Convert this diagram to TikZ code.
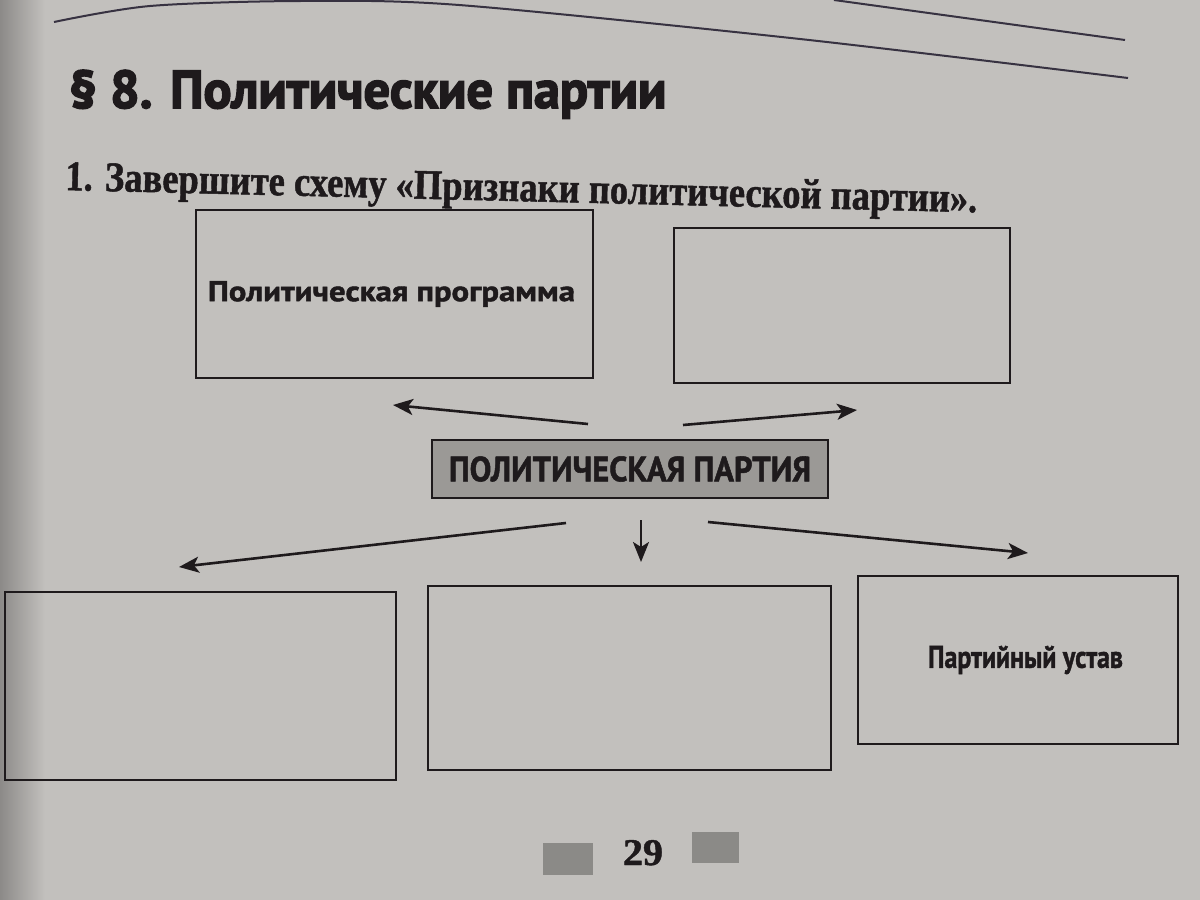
\documentclass[tikz,border=0pt]{standalone}
\usepackage{graphicx}
\usepackage{fontspec}
\setmainfont{Liberation Serif}[BoldFeatures={FakeBold=1.2}]
\newfontfamily\labelfont{PT Sans}[BoldFeatures={FakeBold=1.5}]
\newfontfamily\titlefont{PT Sans}[BoldFeatures={FakeBold=3}]
\usetikzlibrary{arrows.meta}
\definecolor{paper}{RGB}{194,192,189}
\definecolor{paperdark}{RGB}{140,138,136}
\definecolor{ink}{RGB}{30,26,28}
\definecolor{halftone}{RGB}{155,153,150}
\definecolor{ruleink}{RGB}{55,50,65}
\begin{document}
\begin{tikzpicture}[x=1pt,y=-1pt,
  frame/.style={draw=ink, line width=2pt, rectangle, inner sep=0pt, text=ink},
  partybox/.style={frame, fill=halftone},
  conn/.style={draw=ink, line width=2.6pt, -{Stealth[length=20pt,width=16pt,inset=5pt]}},
  plate/.style={fill=halftone!90!black, draw=none}]
% page
\useasboundingbox (0,0) rectangle (1200,900);
\fill[paper] (0,0) rectangle (1200,900);
\shade[left color=paperdark, right color=paper] (0,0) rectangle (45,900);
% top rules
\draw[ruleink, line width=2pt] plot[smooth] coordinates {(54,22) (150,6) (300,1) (459,5) (800,39) (1128,78)};
\draw[ruleink, line width=2pt] (834,0) -- (1125,40);
% headings
\node[anchor=base west, inner sep=0pt, text=ink] (title) at (69,108)
  {\resizebox{597pt}{38pt}{\titlefont\bfseries § 8. Политические партии}};
\node[anchor=base west, inner sep=0pt, text=ink, rotate=-1.4] (task) at (65,190)
  {\resizebox{912pt}{29pt}{\bfseries 1. Завершите схему «Признаки политической партии».}};
% boxes
\node[frame, minimum width=397pt, minimum height=168pt] (prog) at (394.5,294)
  {\resizebox{367pt}{20pt}{\labelfont\bfseries Политическая программа}\hspace*{6pt}};
\node[frame, minimum width=336pt, minimum height=155pt] (tr) at (842,305.5) {};
\node[partybox, minimum width=396pt, minimum height=58pt] (party) at (630,469)
  {\resizebox{362pt}{25pt}{\labelfont\bfseries ПОЛИТИЧЕСКАЯ ПАРТИЯ}};
\node[frame, minimum width=391pt, minimum height=188pt] (bl) at (200.5,686) {};
\node[frame, minimum width=403pt, minimum height=184pt] (bm) at (629.5,678) {};
\node[frame, minimum width=320pt, minimum height=168pt] (br) at (1018,660)
  {\hspace*{15pt}\resizebox{195pt}{22pt}{\labelfont\bfseries Партийный устав}};
% arrow ends
\coordinate (s1) at (588,424);  \coordinate (e1) at (393,405);
\coordinate (s2) at (683,425);  \coordinate (e2) at (857,410);
\coordinate (s3) at (566,523);  \coordinate (e3) at (179,567);
\coordinate (s4) at (641,520);  \coordinate (e4) at (641,562);
\coordinate (s5) at (708,522);  \coordinate (e5) at (1028,553);
\draw[conn] (s1) -- (e1);
\draw[conn] (s2) -- (e2);
\draw[conn] (s3) -- (e3);
\draw[conn] (s4) -- (e4);
\draw[conn] (s5) -- (e5);
% footer
\fill[plate] (543,843) rectangle (593,875);
\fill[plate] (692,832) rectangle (739,863);
\node[anchor=base, inner sep=0pt, text=ink] (pagenum) at (643,865)
  {\resizebox{40pt}{25pt}{\bfseries 29}};
\end{tikzpicture}
\end{document}
